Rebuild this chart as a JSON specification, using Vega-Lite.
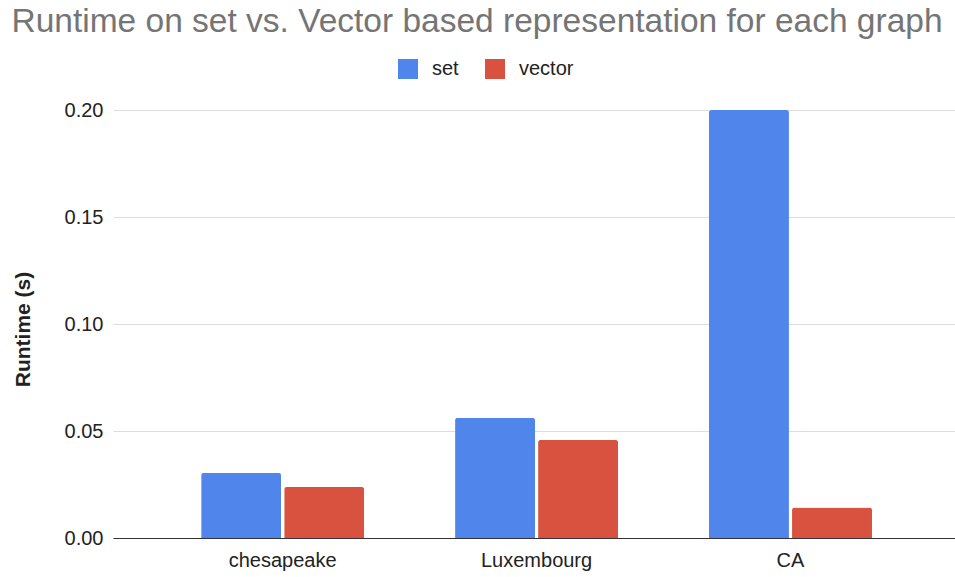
{
  "$schema": "https://vega.github.io/schema/vega-lite/v6.json",
  "autosize": "none",
  "padding": {"left": 113, "top": 110, "right": 0, "bottom": 39},
  "width": 842,
  "height": 428,
  "background": "white",
  "title": {
    "text": "Runtime on set vs. Vector based representation for each graph",
    "anchor": "middle",
    "frame": "group",
    "dx": -57,
    "offset": 20,
    "fontSize": 33.5,
    "font": "Liberation Sans",
    "fontWeight": "normal",
    "color": "#757575"
  },
  "data": {
    "values": [
      {"graph": "chesapeake", "rep": "set", "runtime": 0.0304},
      {"graph": "chesapeake", "rep": "vector", "runtime": 0.0238},
      {"graph": "Luxembourg", "rep": "set", "runtime": 0.0562},
      {"graph": "Luxembourg", "rep": "vector", "runtime": 0.0458},
      {"graph": "CA", "rep": "set", "runtime": 0.2},
      {"graph": "CA", "rep": "vector", "runtime": 0.0142}
    ]
  },
  "mark": {"type": "bar", "cornerRadiusTopLeft": 2.5, "cornerRadiusTopRight": 2.5},
  "encoding": {
    "x": {
      "field": "graph",
      "type": "nominal",
      "sort": ["chesapeake", "Luxembourg", "CA"],
      "scale": {"paddingInner": 0.358, "paddingOuter": 0.337, "align": 0.515},
      "axis": {
        "title": null,
        "labelAngle": 0,
        "labelFontSize": 20,
        "labelFont": "Liberation Sans",
        "labelColor": "#222222",
        "labelPadding": 12,
        "ticks": false,
        "domainColor": "#333333",
        "domainWidth": 1.2
      }
    },
    "xOffset": {
      "field": "rep",
      "type": "nominal",
      "scale": {"paddingInner": 0.037}
    },
    "y": {
      "field": "runtime",
      "type": "quantitative",
      "scale": {"domain": [0, 0.2], "nice": false},
      "axis": {
        "title": "Runtime (s)",
        "titleFont": "Liberation Sans",
        "titleFontSize": 21,
        "titleFontWeight": "bold",
        "titleColor": "#222222",
        "titleAngle": 270,
        "titleAlign": "center",
        "titleBaseline": "middle",
        "titleX": -90,
        "titleY": 219,
        "values": [0, 0.05, 0.1, 0.15, 0.2],
        "format": ".2f",
        "labelFontSize": 20,
        "labelFont": "Liberation Sans",
        "labelColor": "#222222",
        "labelPadding": 10,
        "ticks": false,
        "domain": false,
        "gridColor": "#dddddd",
        "gridWidth": 1.2
      }
    },
    "color": {
      "field": "rep",
      "type": "nominal",
      "scale": {"domain": ["set", "vector"], "range": ["#5085EB", "#D9513F"]},
      "legend": {
        "title": null,
        "orient": "none",
        "direction": "horizontal",
        "legendX": 285,
        "legendY": -51,
        "symbolType": "square",
        "symbolSize": 400,
        "symbolStrokeWidth": 0,
        "labelFontSize": 20,
        "labelFont": "Liberation Sans",
        "labelColor": "#222222",
        "labelOffset": 14,
        "columnPadding": 26
      }
    }
  },
  "config": {"view": {"stroke": null}}
}
